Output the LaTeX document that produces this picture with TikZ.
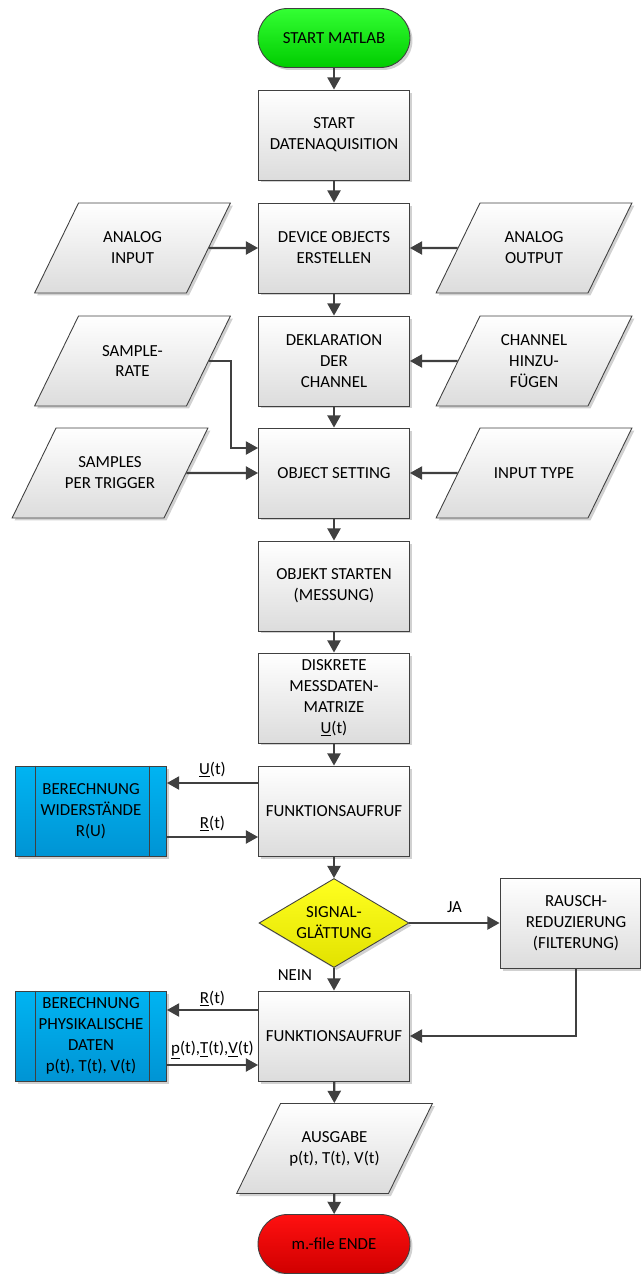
\documentclass[tikz,border=0pt]{standalone}
\usepackage{fontspec}
\setmainfont{Carlito}
\usetikzlibrary{shapes.geometric,arrows.meta,shadows}

\definecolor{linegray}{HTML}{404040}
\definecolor{boxbot}{HTML}{DCDCDC}
\definecolor{greentop}{HTML}{33FF33}
\definecolor{greenbot}{HTML}{00CC00}
\definecolor{redtop}{HTML}{FF1010}
\definecolor{redbot}{HTML}{D00000}
\definecolor{bluetop}{HTML}{00B4F2}
\definecolor{bluebot}{HTML}{0094D4}
\definecolor{yellowtop}{HTML}{FFFF20}
\definecolor{yellowbot}{HTML}{E2E200}

% text block of an input/output parallelogram
\newcommand{\iotext}[1]{\parbox[c][1.8cm][c]{2.16cm}{\centering #1}}

\begin{document}
\begin{tikzpicture}[x=0.02cm,y=-0.02cm,
  font=\fontsize{9.6}{11.9}\selectfont,
  shade/.style={drop shadow={shadow xshift=0.05cm,shadow yshift=-0.05cm,fill=black,opacity=0.18}},
  box/.style={draw=linegray,line width=0.5pt,rectangle,minimum width=3.02cm,minimum height=1.8cm,
    align=center,top color=white,bottom color=boxbot,shade},
  io/.style={draw=linegray,line width=0.5pt,trapezium,trapezium left angle=64,trapezium right angle=116,
    inner sep=0pt,top color=white,bottom color=boxbot,shade},
  term/.style={draw=linegray,line width=0.5pt,rectangle,rounded corners=0.59cm,minimum width=3.04cm,
    minimum height=1.18cm,shade},
  subproc/.style={box,top color=bluetop,bottom color=bluebot},
  decision/.style={draw=linegray,line width=0.5pt,diamond,aspect=1.7,inner sep=0pt,minimum width=3cm,
    minimum height=1.78cm,align=center,top color=yellowtop,bottom color=yellowbot,shade},
  arr/.style={-{Triangle[length=7pt,width=7.5pt]},line width=1.2pt,draw=linegray}]
  \useasboundingbox (0,0) rectangle (641,1274);

  % Main column
  \node[term,top color=greentop,bottom color=greenbot] (start) at (334,38) {START MATLAB};
  \node[box] (daq) at (334,135) {START\\DATENAQUISITION};
  \node[box] (dev) at (334,248) {DEVICE OBJECTS\\ERSTELLEN};
  \node[box] (dekl) at (334,361) {DEKLARATION\\DER\\CHANNEL};
  \node[box] (oset) at (334,473) {OBJECT SETTING};
  \node[box] (ostart) at (334,586) {OBJEKT STARTEN\\(MESSUNG)};
  \node[box] (diskr) at (334,698) {DISKRETE\\MESSDATEN-\\MATRIZE\\\underline{U}(t)};
  \node[box] (fa1) at (334,811) {FUNKTIONSAUFRUF};
  \node[decision] (sig) at (334,923) {SIGNAL-\\GLÄTTUNG};
  \node[box] (fa2) at (334,1036) {FUNKTIONSAUFRUF};
  \node[io] (ausg) at (334.5,1148.5) {\iotext{AUSGABE\\p(t), T(t), V(t)}};
  \node[term,top color=redtop,bottom color=redbot] (ende) at (334,1244) {m.-file ENDE};

  % Inputs left and right
  \node[io] (ain) at (132.5,248) {\iotext{ANALOG\\INPUT}};
  \node[io] (aout) at (534,248) {\iotext{ANALOG\\OUTPUT}};
  \node[io] (srate) at (132.5,361) {\iotext{SAMPLE-\\RATE}};
  \node[io] (chan) at (534,361) {\iotext{CHANNEL\\HINZU-\\FÜGEN}};
  \node[io] (spt) at (110,473) {\iotext{SAMPLES\\PER TRIGGER}};
  \node[io] (itype) at (534,473) {\iotext{INPUT TYPE}};

  % Sub-processes and filter
  \node[subproc] (calcr) at (91,811) {BERECHNUNG\\WIDERSTÄNDE\\R(U)};
  \node[subproc] (calcp) at (91,1036) {BERECHNUNG\\PHYSIKALISCHE\\DATEN\\p(t), T(t), V(t)};
  \node[box,minimum width=2.8cm] (filt) at (570,923) {\hspace*{0.24cm}RAUSCH-\\\hspace*{0.24cm}REDUZIERUNG\\\hspace*{0.24cm}(FILTERUNG)};
  \foreach \n in {calcr,calcp}{
    \draw[linegray,line width=0.5pt] ([xshift=0.4cm]\n.north west) -- ([xshift=0.4cm]\n.south west);
    \draw[linegray,line width=0.5pt] ([xshift=-0.34cm]\n.north east) -- ([xshift=-0.34cm]\n.south east);
  }

  % Main flow
  \draw[arr] (start) -- (daq);
  \draw[arr] (daq) -- (dev);
  \draw[arr] (dev) -- (dekl);
  \draw[arr] (dekl) -- (oset);
  \draw[arr] (oset) -- (ostart);
  \draw[arr] (ostart) -- (diskr);
  \draw[arr] (diskr) -- (fa1);
  \draw[arr] (fa1) -- (sig);
  \draw[arr] (sig) -- node[pos=0.3,left=0.3cm] {NEIN} (fa2);
  \draw[arr] (fa2) -- (ausg);
  \draw[arr] (ausg) -- (ende);

  % Side inputs
  \draw[arr] (ain.east) -- (dev.west);
  \draw[arr] (aout.west) -- (dev.east);
  \draw[arr] (chan.west) -- (dekl.east);
  \draw[arr] (srate.east) -- ++(22,0) |- ([yshift=0.5cm]oset.west);
  \draw[arr] (spt.east) -- (oset.west);
  \draw[arr] (itype.west) -- (oset.east);

  % Function calls
  \draw[arr] ([yshift=0.56cm]fa1.west) -- node[above=-1pt] {\underline{U}(t)} ([yshift=0.56cm]calcr.east);
  \draw[arr] ([yshift=-0.52cm]calcr.east) -- node[above=-1pt] {\underline{R}(t)} ([yshift=-0.52cm]fa1.west);
  \draw[arr] (sig.east) -- node[above=2pt] {JA} (filt.west);
  \draw[arr] ([xshift=0.12cm]filt.south) |- (fa2.east);
  \draw[arr] ([yshift=0.52cm]fa2.west) -- node[above=-2pt] {\underline{R}(t)} ([yshift=0.52cm]calcp.east);
  \draw[arr] ([yshift=-0.58cm]calcp.east) -- node[above=-1pt] {\underline{p}(t),\underline{T}(t),\underline{V}(t)} ([yshift=-0.58cm]fa2.west);

\end{tikzpicture}
\end{document}
